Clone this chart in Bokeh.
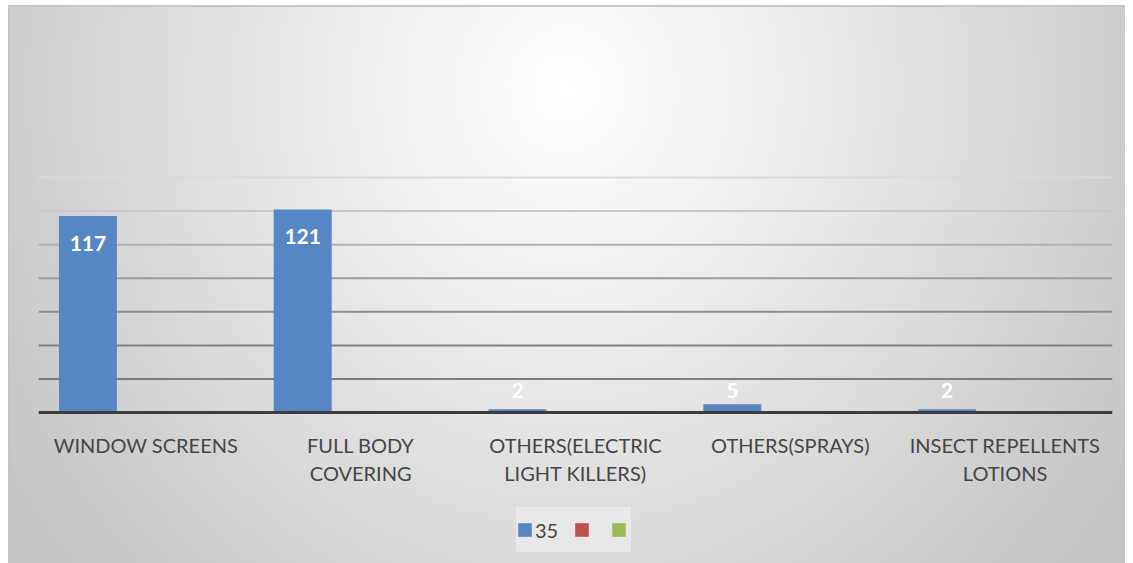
from bokeh.plotting import figure
from bokeh.models import (ColumnDataSource, FactorRange, Range1d, Legend, LegendItem, Span,
                          CategoricalAxis, CustomJSTickFormatter)
from bokeh.transform import dodge
from bokeh.core.properties import value
from bokeh.embed import file_html
from bokeh.resources import INLINE

# ---- data ----
categories = ["WINDOW SCREENS", "FULL BODY COVERING", "OTHERS(ELECTRIC LIGHT KILLERS)",
              "OTHERS(SPRAYS)", "INSECT REPELLENTS LOTIONS"]
tick_labels_line1 = ["WINDOW SCREENS", "FULL BODY", "OTHERS(ELECTRIC",
                     "OTHERS(SPRAYS)", "INSECT REPELLENTS"]
tick_labels_line2 = ["", "COVERING", "LIGHT KILLERS)", "", "LOTIONS"]
series_names = ["35", "\u2009", "\u2009"]
series_35 = [117, 121, 2, 5, 2]
series_2 = [None, None, None, None, None]
series_3 = [None, None, None, None, None]
grid_ticks = [20, 40, 60, 80, 100, 120, 140]

# ---- styles ----
colors = ["#5686c3", "#c0504d", "#9bbb59"]
grid_colors = ["#7c7c7c", "#828282", "#8e8e8e", "#9c9c9c", "#b2b2b2", "#c9c9c9", "#dadada"]
FONT = "Lato"
TEXT = "#454545"

label_y = [v if v > 20 else 0 for v in series_35]
label_off = [27 if v > 20 else -22 for v in series_35]
src = ColumnDataSource(dict(cat=categories, s1=series_35, s2=series_2, s3=series_3,
                            lab=[str(v) for v in series_35], ly=label_y, loff=label_off))

p = figure(x_range=FactorRange(factors=categories), y_range=Range1d(-89.9, 233.5),
           width=1117, height=558, output_backend="svg", toolbar_location=None,
           min_border_left=30, min_border_right=13, min_border_top=15, min_border_bottom=0)
p.margin = (5, 0, 0, 8)
p.styles = {
    "background": "radial-gradient(ellipse 60% 130% at 50% 15%, #ffffff 0%, #e9e9e9 40%, #d3d3d3 75%, #c4c4c4 100%)",
    "box-shadow": "inset 0 2px 0 #c6c6c6, inset 1px 0 0 #c2c2c2",
}
p.border_fill_color = None
p.background_fill_color = None
p.outline_line_color = None
p.xgrid.visible = False
p.ygrid.visible = False
p.yaxis.visible = False

for t, c in zip(grid_ticks, grid_colors):
    p.add_layout(Span(location=t, dimension="width", line_color=c, line_width=2, level="underlay"))

w = 0.27
r1 = p.vbar(x=dodge("cat", -w, range=p.x_range), top="s1", width=w, source=src,
            fill_color=colors[0], line_color=None)
r2 = p.vbar(x=dodge("cat", 0, range=p.x_range), top="s2", width=w, source=src,
            fill_color=colors[1], line_color=None)
r3 = p.vbar(x=dodge("cat", w, range=p.x_range), top="s3", width=w, source=src,
            fill_color=colors[2], line_color=None)

p.text(x=dodge("cat", -w, range=p.x_range), y="ly", text="lab", y_offset="loff", source=src,
       text_color="white", text_font=value(FONT), text_font_style="bold",
       text_font_size="21px", text_align="center", text_baseline="middle")

JS = "const i = cats.indexOf(tick); return i >= 0 ? labs[i] : '';"

ax = p.xaxis[0]
ax.formatter = CustomJSTickFormatter(args=dict(cats=categories, labs=tick_labels_line1), code=JS)
ax.fixed_location = 0
ax.axis_line_width = 3
ax.axis_line_color = "#3c3c3c"
ax.major_tick_line_color = None
ax.minor_tick_line_color = None
ax.major_label_text_font = FONT
ax.major_label_text_font_size = "20px"
ax.major_label_text_color = TEXT
ax.major_label_standoff = 14

ax2 = CategoricalAxis(formatter=CustomJSTickFormatter(args=dict(cats=categories, labs=tick_labels_line2), code=JS),
                      fixed_location=0,
                      axis_line_color=None, major_tick_line_color=None,
                      minor_tick_line_color=None, major_label_standoff=42,
                      major_label_text_font=FONT, major_label_text_font_size="20px",
                      major_label_text_color=TEXT)
p.add_layout(ax2, "below")

legend = Legend(items=[LegendItem(label=series_names[0], renderers=[r1]),
                       LegendItem(label=series_names[1], renderers=[r2]),
                       LegendItem(label=series_names[2], renderers=[r3])],
                orientation="horizontal", location=(478, 11),
                glyph_width=17, glyph_height=17, label_height=45, label_width=0,
                label_standoff=2, spacing=15,
                padding=13, margin=0,
                label_text_font=FONT, label_text_font_size="20px", label_text_color=TEXT,
                background_fill_color="#f2f2f2", background_fill_alpha=0.55,
                border_line_color=None)
p.add_layout(legend)

open("out.html", "w").write(file_html(p, INLINE))
